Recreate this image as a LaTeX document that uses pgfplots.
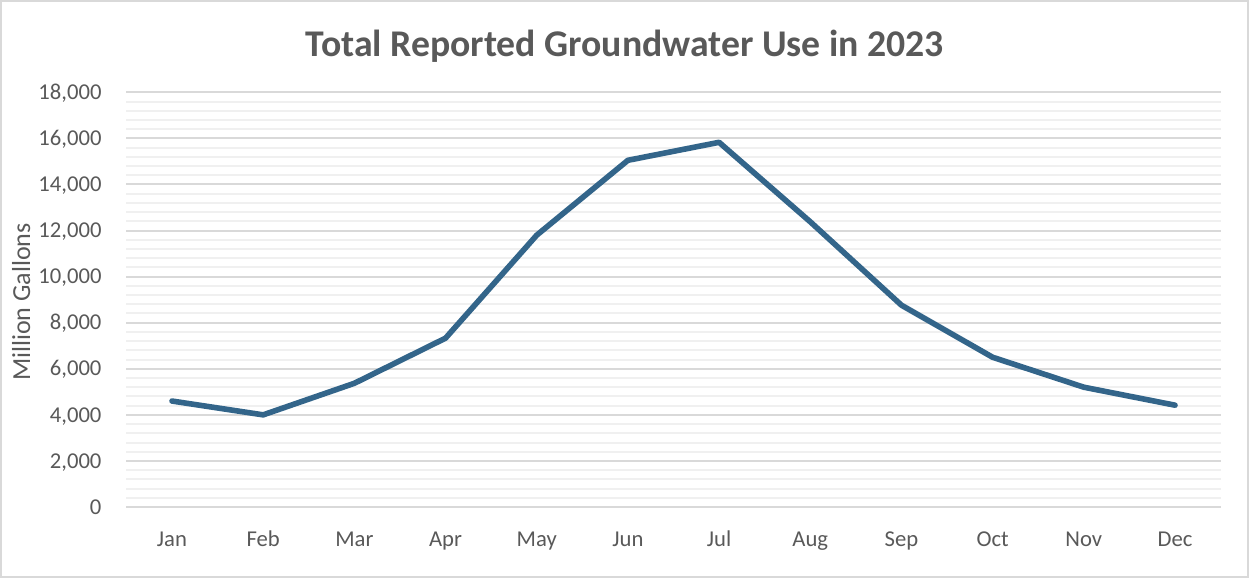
\documentclass[border=0pt]{standalone}
\usepackage{pgfplots}
\pgfplotsset{compat=1.18}
\usepackage{fontspec}
\setmainfont{Carlito}
\definecolor{txt}{HTML}{595959}
\definecolor{majgrid}{HTML}{D9D9D9}
\definecolor{mingrid}{HTML}{F0F0F0}
\definecolor{linec}{HTML}{33658A}
\begin{document}
\begin{tikzpicture}
\path[use as bounding box] (0pt,0pt) rectangle (936.75pt,-433.5pt);
\draw[majgrid, line width=1.2pt] (0.6pt,-0.6pt) rectangle (936.15pt,-432.9pt);
\node[anchor=base, text=txt, font=\fontsize{28.3}{32}\selectfont\bfseries] at (468.5pt,-42pt) {Total Reported Groundwater Use in 2023};
\node[anchor=base, rotate=90, text=txt, font=\fontsize{19.5}{23}\selectfont] at (22.5pt,-226.5pt) {Million Gallons};
\begin{axis}[
  at={(94.8pt,-380.25pt)}, anchor=south west,
  scale only axis, width=820.65pt, height=311pt,
  xmin=-0.5, xmax=11.5, ymin=0, ymax=18000,
  axis line style={draw=none},
  xtick={0,...,11},
  xticklabels={Jan,Feb,Mar,Apr,May,Jun,Jul,Aug,Sep,Oct,Nov,Dec},
  ytick={0,2000,...,18000},
  minor y tick num=4,
  major tick length=0pt, minor tick length=0pt,
  ymajorgrids, yminorgrids,
  major grid style={majgrid, line width=1.5pt},
  minor grid style={mingrid, line width=1.5pt},
  scaled y ticks=false,
  /pgf/number format/.cd, 1000 sep={,}, assume math mode=true, /pgfplots/.cd,
  tick label style={font=\fontsize{17}{20}\selectfont, text=txt, inner sep=0pt},
  yticklabel style={anchor=base east, xshift=-18.5pt, yshift=-5.4pt},
  xticklabel style={anchor=base, yshift=-29.25pt},
  clip=false,
]
\addplot[linec, line width=4.2pt, line join=round, line cap=round] coordinates {
(0,4600) (1,4000) (2,5370) (3,7330) (4,11800) (5,15050) (6,15830) (7,12380) (8,8760) (9,6500) (10,5200) (11,4420)
};
\end{axis}
\end{tikzpicture}
\end{document}
